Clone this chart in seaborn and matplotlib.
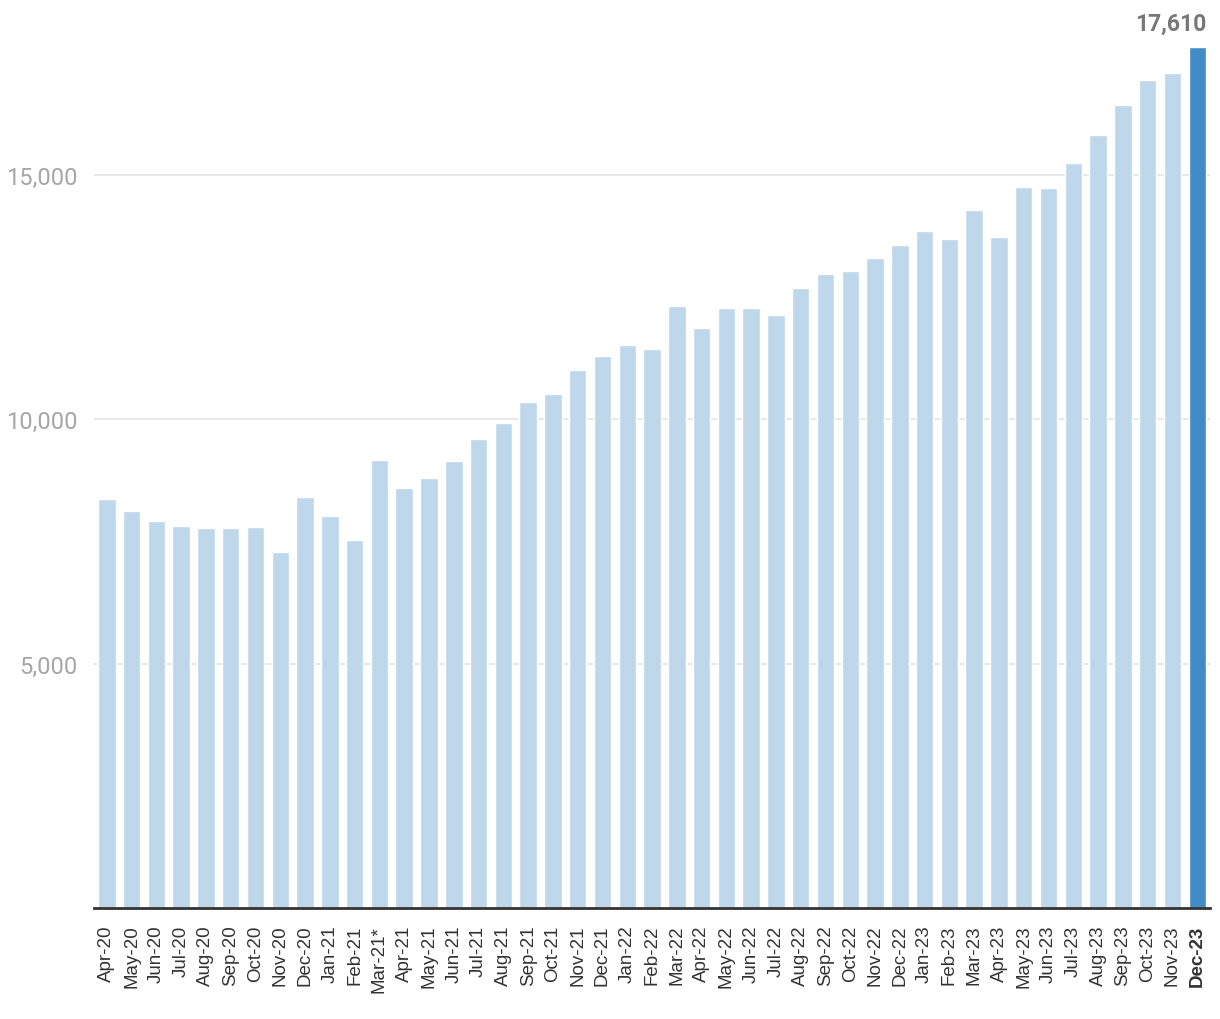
import matplotlib
matplotlib.use("Agg")
import matplotlib.pyplot as plt
import seaborn as sns
import pandas as pd

months = ["Apr-20", "May-20", "Jun-20", "Jul-20", "Aug-20", "Sep-20", "Oct-20", "Nov-20", "Dec-20",
          "Jan-21", "Feb-21", "Mar-21*", "Apr-21", "May-21", "Jun-21", "Jul-21", "Aug-21", "Sep-21",
          "Oct-21", "Nov-21", "Dec-21", "Jan-22", "Feb-22", "Mar-22", "Apr-22", "May-22", "Jun-22",
          "Jul-22", "Aug-22", "Sep-22", "Oct-22", "Nov-22", "Dec-22", "Jan-23", "Feb-23", "Mar-23",
          "Apr-23", "May-23", "Jun-23", "Jul-23", "Aug-23", "Sep-23", "Oct-23", "Nov-23", "Dec-23"]
values = [8364, 8124, 7919, 7816, 7775, 7775, 7796, 7284, 8410,
          8021, 7530, 9167, 8594, 8799, 9147, 9598, 9925, 10354,
          10518, 11009, 11295, 11520, 11438, 12318, 11868, 12277, 12277,
          12134, 12686, 12970, 13036, 13302, 13567, 13854, 13690, 14283,
          13731, 14754, 14733, 15244, 15817, 16431, 16943, 17086, 17610]
yticks = [5000, 10000, 15000]
ytick_labels = ["5,000", "10,000", "15,000"]
highlight_label = "17,610"

light = "#BFD7EA"
dark = "#438BC4"
colors = [light] * (len(months) - 1) + [dark]

sns.set_theme(style="white")
plt.rcParams["font.family"] = ["Roboto", "DejaVu Sans"]

df = pd.DataFrame({"month": months, "value": values})

fig = plt.figure(figsize=(12.2, 10.2), dpi=100)
ax = fig.add_axes([0.0774, 0.1088, 0.9141, 0.8441])

sns.barplot(data=df, x="month", y="value", hue="month", palette=colors,
            legend=False, width=0.705, saturation=1, ax=ax)

ax.set_xlim(-0.5, len(months) - 0.5)
ax.set_ylim(0, values[-1])
ax.set_yticks(yticks)
ax.set_yticklabels(ytick_labels, fontsize=17, color="#A6A6A6")
ax.yaxis.grid(True, color="#E6E6E6", linewidth=1.3)
ax.set_axisbelow(True)
ax.tick_params(axis="y", length=0, pad=12)
ax.tick_params(axis="x", length=0, pad=12)
ax.set_xticks(range(len(months)))
ax.set_xticklabels(months, rotation=90, fontsize=13.5, color="#333333",
                   family=["Liberation Sans", "DejaVu Sans"])
ax.get_xticklabels()[-1].set_fontweight("bold")
ax.set_xlabel("")
ax.set_ylabel("")
for s in ["top", "right", "left"]:
    ax.spines[s].set_visible(False)
ax.spines["bottom"].set_color("#333333")
ax.spines["bottom"].set_linewidth(2)

ax.annotate(highlight_label, xy=(len(months) - 1 + 0.36, values[-1]),
            xytext=(0, 17), textcoords="offset points",
            ha="right", va="center", fontsize=16.5, fontweight="bold",
            color="#777777", annotation_clip=False)

fig.savefig("out.png", dpi=100)
